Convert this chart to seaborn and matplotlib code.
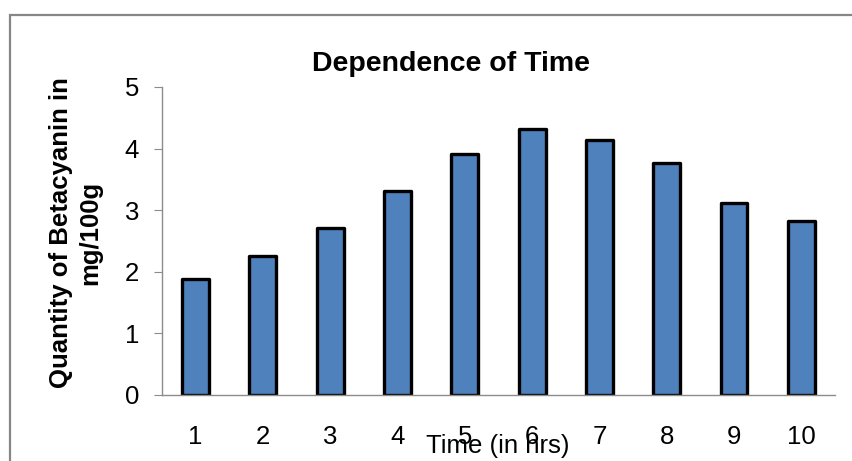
import matplotlib
matplotlib.use("Agg")
import matplotlib.pyplot as plt
import matplotlib.patches as mpatches
import seaborn as sns
import pandas as pd

# Betacyanin content measured at each hour
hours = ["1", "2", "3", "4", "5", "6", "7", "8", "9", "10"]
betacyanin = [1.88, 2.26, 2.71, 3.31, 3.92, 4.32, 4.14, 3.77, 3.11, 2.82]
y_ticks = [0, 1, 2, 3, 4, 5]

sns.set_theme(style="white")
plt.rcParams["font.family"] = ["Liberation Sans", "DejaVu Sans"]

df = pd.DataFrame({"Time": hours, "Quantity": betacyanin})

fig = plt.figure(figsize=(8.52, 4.61), dpi=100)
ax = fig.add_axes([0.190, 0.1432, 0.790, 0.6681])

sns.barplot(data=df, x="Time", y="Quantity", order=hours, color="#4F81BD",
            saturation=1, width=0.40, edgecolor="black", linewidth=2.4, ax=ax)
for p in ax.patches:
    p.set_joinstyle("round")

ax.set_ylim(0, 5)
ax.set_xlim(-0.5, len(hours) - 0.5)
ax.set_yticks(y_ticks)
ax.set_yticklabels([str(t) for t in y_ticks])
ax.set_xlabel("")
ax.set_ylabel("")

for side in ("top", "right"):
    ax.spines[side].set_visible(False)
for side in ("left", "bottom"):
    ax.spines[side].set_color("#8c8c8c")
    ax.spines[side].set_linewidth(1.0)

ax.tick_params(axis="y", which="both", left=True, direction="out", length=5.5,
               width=0.8, color="#8c8c8c", labelsize=18.5, pad=11, labelcolor="black")
ax.tick_params(axis="x", which="both", bottom=False, length=0, labelsize=18.5,
               pad=21.5, labelcolor="black")

# Chart title and axis titles
fig.text(451 / 852, 1 - 71 / 461, "Dependence of Time", ha="center", va="baseline",
         fontsize=20.5, fontweight="bold", color="black")
fig.text(497.5 / 852, 1 - 453 / 461, "Time (in hrs)", ha="center", va="baseline",
         fontsize=18.5, color="black")
fig.text(75.5 / 852, 1 - 233 / 461, "Quantity of Betacyanin in\nmg/100g",
         rotation=90, ha="center", va="center", multialignment="center",
         fontsize=18.5, fontweight="bold", color="black", linespacing=1.3)

# Chart area border
frame = mpatches.Rectangle((9.5 / 852, -0.2), 1.2, 1.2 - 14.5 / 461,
                           transform=fig.transFigure, fill=False,
                           edgecolor="#868686", linewidth=1.6, clip_on=False)
fig.patches.append(frame)

fig.savefig("out.png", dpi=100, facecolor="white")
